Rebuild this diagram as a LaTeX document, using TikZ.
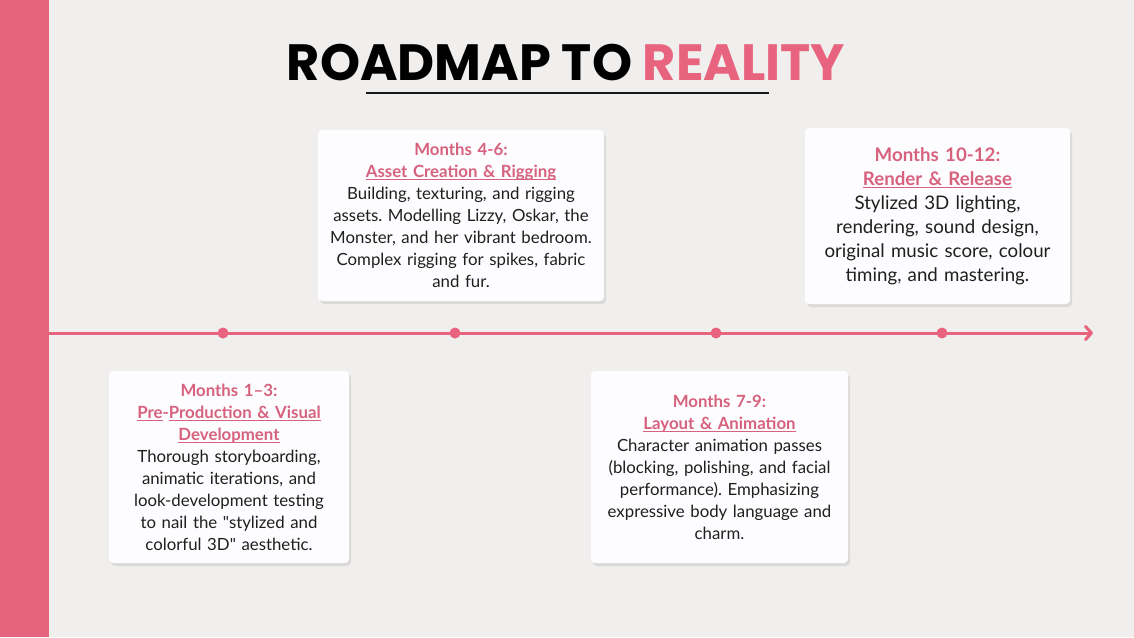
\documentclass[tikz,border=0pt]{standalone}
\usepackage{fontspec}
\usepackage{xcolor}
\usepackage{tikz}
\usetikzlibrary{positioning,shadows,arrows.meta}
\setmainfont{Lato}
\newfontfamily\bodyfont{Lato}
\newfontfamily\titlefont{Poppins}
\frenchspacing

\definecolor{paper}{HTML}{F0EFED}
\definecolor{rose}{HTML}{E8637D}
\definecolor{roseText}{HTML}{D6627E}
\definecolor{ink}{HTML}{1F1F1F}
\definecolor{card}{HTML}{FDFCFE}

\newsavebox{\ulbox}
\newcommand{\ulined}[1]{\leavevmode\sbox{\ulbox}{#1}\rlap{\rule[-2.8pt]{\wd\ulbox}{1.3pt}}\usebox{\ulbox}}
\newcommand{\phase}[1]{{\bfseries\color{roseText}#1}}
\newcommand{\uphase}[1]{{\bfseries\color{roseText}\ulined{#1}}}

\begin{document}
\begin{tikzpicture}[x=1pt,y=-1pt]
    \tikzstyle{card box}=[rectangle,rounded corners=4pt,fill=card,draw=none,
        drop shadow={opacity=0.18,shadow xshift=2pt,shadow yshift=-3pt},
        align=center,text=ink,inner sep=0pt,font=\bodyfont\fontsize{16.8}{22}\selectfont]
    \tikzstyle{dot}=[circle,fill=rose,minimum size=11pt,inner sep=0pt]
    \tikzstyle{timeline}=[draw=rose,line width=3pt,line cap=round,
        -{Straight Barb[length=6pt,width=13pt,line cap=round,line join=round]}]

    % Background and side band
    \useasboundingbox (0,0) rectangle (1134,637);
    \fill[paper] (0,0) rectangle (1134,637);
    \fill[rose] (0,0) rectangle (49,637);

    % Title
    \node[anchor=base,inner sep=0pt,font=\titlefont\bfseries\fontsize{51}{51}\selectfont] (title) at (566,80)
        {ROADMAP TO \textcolor{rose}{REALITY}};
    \coordinate (ul-l) at (366,93);
    \coordinate (ul-r) at (769,93);
    \draw[line width=2.5pt,black!90] (ul-l) -- (ul-r);

    % Draw the timeline
    \coordinate (start) at (49,333);
    \coordinate (end) at (1093,333);
    \path[timeline] (start) -- (end);
    \foreach \name / \x in {1/223,2/455,3/716,4/942}
        \node[dot] (D-\name) at (\x,333) {};

    % Draw the phase cards
    \node[card box,minimum width=240pt,minimum height=192pt,text width=235pt] (card-1) at (229,467)
        {\phase{Months 1–3:}\\
         {\bfseries\color{roseText}\ulined{Pre}-\ulined{Production \& Visual}}\\
         \uphase{Development}\\
         Thorough storyboarding,\\
         animatic iterations, and\\
         look-development testing\\
         to nail the "stylized and\\
         colorful 3D" aesthetic.};

    \node[card box,minimum width=286pt,minimum height=171pt,text width=280pt] (card-2) at (461,215.5)
        {\phase{Months 4-6:}\\
         \uphase{Asset Creation \& Rigging}\\
         Building, texturing, and rigging\\
         assets. Modelling Lizzy, Oskar, the\\
         Monster, and her vibrant bedroom.\\
         Complex rigging for spikes, fabric\\
         and fur.};

    \node[card box,minimum width=257pt,minimum height=192pt,text width=250pt] (card-3) at (719.5,467)
        {\phase{Months 7-9:}\\
         \uphase{Layout \& Animation}\\
         Character animation passes\\
         (blocking, polishing, and facial\\
         performance). Emphasizing\\
         expressive body language and\\
         charm.};

    \node[card box,minimum width=265pt,minimum height=176pt,text width=260pt,
          font=\bodyfont\fontsize{18.7}{24}\selectfont] (card-4) at (937.5,216)
        {\phase{Months 10-12:}\\
         \uphase{Render \& Release}\\
         Stylized 3D lighting,\\
         rendering, sound design,\\
         original music score, colour\\
         timing, and mastering.};
\end{tikzpicture}
\end{document}
